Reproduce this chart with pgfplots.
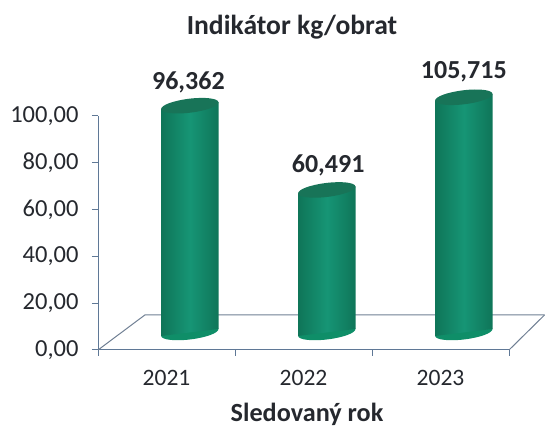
\documentclass[border=0pt]{standalone}
\usepackage{pgfplots}
\pgfplotsset{compat=1.18}
\usepackage{fontspec}
\setmainfont{Carlito}
\definecolor{axiscol}{HTML}{5F7896}
\definecolor{floorcol}{HTML}{6F7F93}
\definecolor{txt}{HTML}{25282E}
\definecolor{cedge}{HTML}{0F7558}
\definecolor{cmid}{HTML}{169575}
\definecolor{ctop}{HTML}{187458}
\definecolor{cbot}{HTML}{0F8E68}
\pgfdeclareplotmark{cylcap}{%
  \pgfpathellipse{\pgfpointorigin}{\pgfqpoint{28.9pt}{0pt}}{\pgfqpoint{0pt}{7pt}}%
  \pgfusepathqfill}
\pgfplotsset{cyl/.style={draw=none, mark=none, sharp plot, left color=cedge, right color=cedge, middle color=cmid, forget plot}}
\begin{document}
\begin{tikzpicture}[x=1pt,y=1pt]
\path[use as bounding box] (0,0) rectangle (545,427);
\begin{axis}[
  at={(98pt,77pt)}, anchor=origin,
  scale only axis, width=411pt, height=234pt,
  xmin=0, xmax=3, ymin=0, ymax=100,
  clip=false, clip marker paths=true,
  axis x line*=bottom, axis y line*=left,
  axis line style={axiscol, line width=1pt, -},
  xtick={0,1,2,3}, xticklabels={},
  extra x ticks={0.5,1.5,2.5},
  extra x tick labels={2021,2022,2023},
  extra x tick style={major tick length=0pt, tick label style={yshift=-17pt}},
  ytick={0,20,40,60,80,100},
  tick align=outside, major tick length=6pt,
  tick style={axiscol, line width=1pt},
  xticklabel style={font=\fontsize{23.5}{26}\selectfont, text=txt},
  yticklabel style={font=\fontsize{24.5}{26}\selectfont, text=txt, xshift=-10pt, /pgf/number format/fixed, /pgf/number format/fixed zerofill, /pgf/number format/precision=2, /pgf/number format/use comma, /pgf/number format/assume math mode=true},
]
% floor of the 3D box
\addplot[sharp plot, floorcol, line width=1pt, mark=none, forget plot] coordinates {(0,0) (0.343,15) (3.26,15)};
\addplot[sharp plot, floorcol, line width=1pt, mark=none, forget plot] coordinates {(3,0) (3.26,15)};
% bottom caps
\addplot[only marks, mark=cylcap, mark options={rotate=7, fill=cbot, draw=none}, forget plot] table[x=x,y=y] {
x y
0.67 7.5
1.67 7.5
2.67 7.5
};
% cylinder bodies, with ends slanted along the tilt of the caps
\addplot[cyl] coordinates {(0.46,6.0) (0.88,9.0) (0.88,105.9) (0.46,102.9)};
\addplot[cyl] coordinates {(1.46,6.0) (1.88,9.0) (1.88,69.9) (1.46,66.9)};
\addplot[cyl] coordinates {(2.46,6.0) (2.88,9.0) (2.88,109.5) (2.46,106.5)};
% top caps
\addplot[only marks, mark=cylcap, mark options={rotate=7, fill=ctop, draw=none}, forget plot] table[x=x,y=y] {
x y
0.67 104.4
1.67 68.4
2.67 108
};
% data labels
\addplot[only marks, mark=none, forget plot,
  nodes near coords, point meta=explicit symbolic,
  every node near coord/.style={anchor=center, text=txt, font=\fontsize{26}{30}\selectfont\bfseries}]
  table[x=x,y=y,meta=label] {
x y label
0.66 114.5 96,362
1.68 78.7 60,491
2.67 118.8 105,715
};
\end{axis}
\node[font=\fontsize{27.6}{32}\selectfont\bfseries, text=txt] at (292,400) {Indikátor kg/obrat};
\node[font=\fontsize{26.2}{30}\selectfont\bfseries, text=txt] at (307,12.5) {Sledovaný rok};
\end{tikzpicture}
\end{document}
